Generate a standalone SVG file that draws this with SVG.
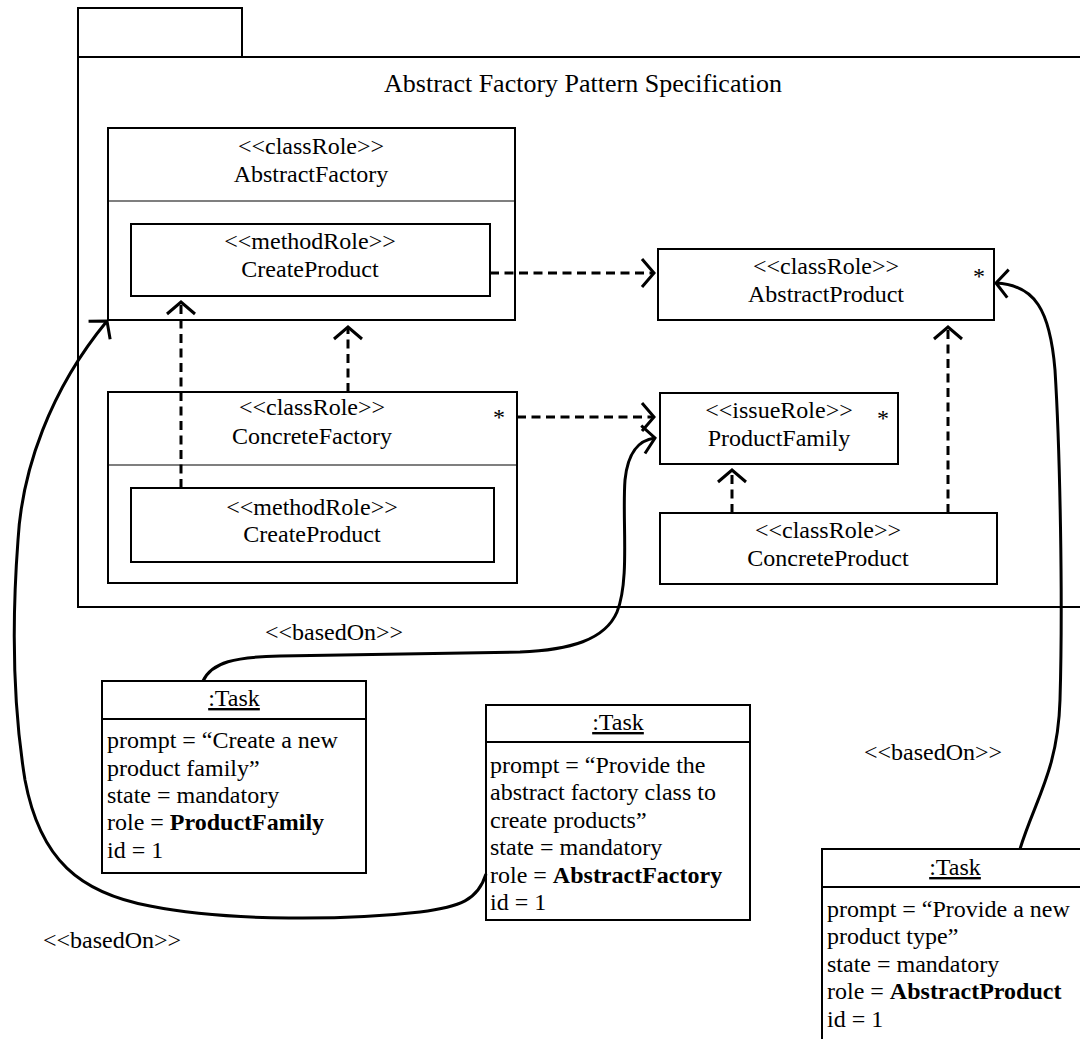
<svg xmlns="http://www.w3.org/2000/svg" width="1080" height="1039" viewBox="0 0 1080 1039" font-family="'Liberation Serif', 'Times New Roman', Times, serif">
  <style>
    .t { font-family: 'Liberation Serif', 'Times New Roman', Times, serif; font-size: 24px; fill: #000; }
    .c { text-anchor: middle; }
    .b { font-weight: bold; }
    .u { text-decoration: underline; }
    .box { fill: #fff; stroke: #000; stroke-width: 2; }
    .pkg { fill: #fff; stroke: #000; stroke-width: 2; }
    .sep { stroke: #000; stroke-width: 1.2; }
    .dep { fill: none; stroke: #000; stroke-width: 3; stroke-dasharray: 9 5.5; marker-end: url(#open); }
    .rel { fill: none; stroke: #000; stroke-width: 3; marker-end: url(#open); }
  </style>
  <defs>
    <marker id="open" markerUnits="userSpaceOnUse" viewBox="-16 -18 20 36" markerWidth="20" markerHeight="36" refX="0" refY="0" orient="auto" overflow="visible">
      <path d="M -12 -14 L 0 0 L -12 14" fill="none" stroke="#000" stroke-width="3"/>
    </marker>
  </defs>

  <rect width="1080" height="1039" fill="#fff"/>

  <!-- package frame -->
  <g id="package">
    <rect class="pkg" x="78" y="8" width="164" height="49"/>
    <rect class="pkg" x="78" y="57" width="1030" height="550"/>
    <text class="t c" x="583" y="92" style="font-size:26px">Abstract Factory Pattern Specification</text>
  </g>

  <g id="abstractFactory">
    <rect class="box" x="108" y="128" width="407" height="192"/>
    <line class="sep" x1="108" y1="201" x2="515" y2="201"/>
    <text class="t c" x="311" y="154">&lt;&lt;classRole&gt;&gt;</text>
    <text class="t c" x="311" y="182">AbstractFactory</text>
  </g>
  <g id="abstractFactoryCreate">
    <rect class="box" x="131" y="224" width="359" height="72"/>
    <text class="t c" x="310" y="249">&lt;&lt;methodRole&gt;&gt;</text>
    <text class="t c" x="310" y="277">CreateProduct</text>
  </g>

  <g id="abstractProduct">
    <rect class="box" x="658" y="249" width="336" height="71"/>
    <text class="t c" x="826" y="274">&lt;&lt;classRole&gt;&gt;</text>
    <text class="t c" x="826" y="302">AbstractProduct</text>
    <text class="t c" x="979" y="284">*</text>
  </g>

  <g id="concreteFactory">
    <rect class="box" x="108" y="392" width="409" height="191"/>
    <line class="sep" x1="108" y1="465" x2="517" y2="465"/>
    <text class="t c" x="312" y="415">&lt;&lt;classRole&gt;&gt;</text>
    <text class="t c" x="312" y="444">ConcreteFactory</text>
    <text class="t c" x="499" y="425">*</text>
  </g>
  <g id="concreteFactoryCreate">
    <rect class="box" x="131" y="488" width="363" height="74"/>
    <text class="t c" x="312" y="515">&lt;&lt;methodRole&gt;&gt;</text>
    <text class="t c" x="312" y="542">CreateProduct</text>
  </g>

  <g id="productFamily">
    <rect class="box" x="660" y="393" width="238" height="71"/>
    <text class="t c" x="779" y="418">&lt;&lt;issueRole&gt;&gt;</text>
    <text class="t c" x="779" y="446">ProductFamily</text>
    <text class="t c" x="883" y="426">*</text>
  </g>

  <g id="concreteProduct">
    <rect class="box" x="660" y="513" width="337" height="71"/>
    <text class="t c" x="828" y="538">&lt;&lt;classRole&gt;&gt;</text>
    <text class="t c" x="828" y="566">ConcreteProduct</text>
  </g>

  <!-- task instances -->
  <g id="taskProductFamily">
    <rect class="box" x="102" y="681" width="264" height="192"/>
    <line class="box" x1="102" y1="719" x2="366" y2="719"/>
    <text class="t c u" x="234" y="706">:Task</text>
    <text class="t" x="107" y="748">prompt = “Create a new</text>
    <text class="t" x="107" y="776">product family”</text>
    <text class="t" x="107" y="803">state = mandatory</text>
    <text class="t" x="107" y="830">role = <tspan class="b">ProductFamily</tspan></text>
    <text class="t" x="107" y="858">id = 1</text>
  </g>

  <g id="taskAbstractFactory">
    <rect class="box" x="486" y="705" width="264" height="215"/>
    <line class="box" x1="486" y1="742" x2="750" y2="742"/>
    <text class="t c u" x="618" y="730">:Task</text>
    <text class="t" x="490" y="773">prompt = “Provide the</text>
    <text class="t" x="490" y="800">abstract factory class to</text>
    <text class="t" x="490" y="828">create products”</text>
    <text class="t" x="490" y="855">state = mandatory</text>
    <text class="t" x="490" y="883">role = <tspan class="b">AbstractFactory</tspan></text>
    <text class="t" x="490" y="910">id = 1</text>
  </g>

  <g id="taskAbstractProduct">
    <rect class="box" x="822" y="849" width="266" height="210"/>
    <line class="box" x1="822" y1="887" x2="1088" y2="887"/>
    <text class="t c u" x="955" y="875">:Task</text>
    <text class="t" x="827" y="917">prompt = “Provide a new</text>
    <text class="t" x="827" y="944">product type”</text>
    <text class="t" x="827" y="972">state = mandatory</text>
    <text class="t" x="827" y="999">role = <tspan class="b">AbstractProduct</tspan></text>
    <text class="t" x="827" y="1027">id = 1</text>
  </g>

  <!-- connectors -->
  <g id="connectors">
    <path class="dep" d="M 490 273 L 654 273"/>
    <path class="dep" d="M 348 392 L 348 327"/>
    <path class="dep" d="M 181 488 L 181 302"/>
    <path class="dep" d="M 517 417 L 654 417"/>
    <path class="dep" d="M 732 513 L 732 470"/>
    <path class="dep" d="M 948 513 L 948 327"/>

    <path class="rel" d="M 203 681 C 212 662, 235 657, 280 656 L 520 652 C 570 650, 605 640, 617 612 C 630 580, 622 520, 625 480 C 628 450, 640 440, 655 438"/>
    <path class="rel" d="M 486 874 C 478 900, 460 907, 420 912 C 350 920, 230 922, 150 906 C 80 893, 40 860, 25 780 C 12 700, 12 620, 18 540 C 22 470, 50 390, 107 321"/>
    <path class="rel" d="M 1020 849 C 1035 800, 1058 770, 1060 700 C 1063 600, 1060 450, 1055 370 C 1050 310, 1035 285, 996 283"/>

    <text class="t c" x="334" y="640">&lt;&lt;basedOn&gt;&gt;</text>
    <text class="t c" x="933" y="760">&lt;&lt;basedOn&gt;&gt;</text>
    <text class="t c" x="112" y="948">&lt;&lt;basedOn&gt;&gt;</text>
  </g>
</svg>
